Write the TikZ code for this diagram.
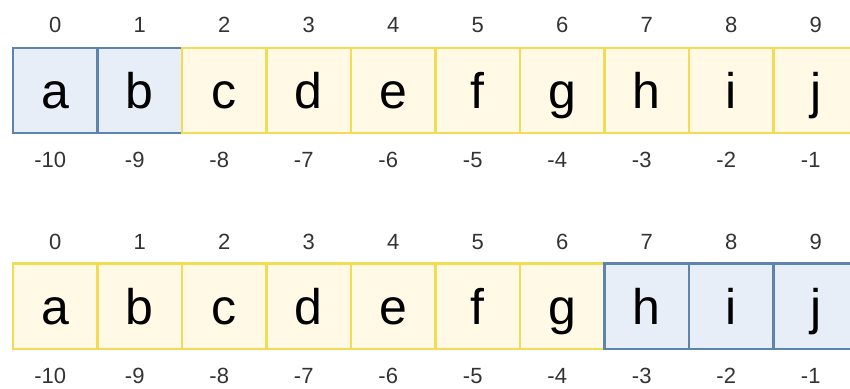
\documentclass[tikz,border=0pt]{standalone}
\usepackage{fontspec}
\setmainfont{Liberation Sans}
\usetikzlibrary{positioning}
\definecolor{cBlueFill}{HTML}{E8EEF7}
\definecolor{cBlueLine}{HTML}{5E84AC}
\definecolor{cYellowFill}{HTML}{FFF9E6}
\definecolor{cYellowLine}{HTML}{F3DC55}
\definecolor{cIdx}{HTML}{333333}
\tikzset{
	cell/.style={rectangle, minimum width=84.5pt, minimum height=85.5pt, inner sep=0pt, outer sep=0pt, line width=2.2pt, text=black, font=\fontsize{50}{60}\selectfont, text height=36pt, text depth=0pt},
	hot/.style ={cell, draw=cBlueLine, fill=cBlueFill},
	cold/.style={cell, draw=cYellowLine, fill=cYellowFill},
	idx/.style ={inner sep=0pt, text=cIdx, font=\fontsize{22}{26}\selectfont, text height=16pt, text depth=0pt},
}
\begin{document}
\begin{tikzpicture}[x=1pt, y=-1pt]
	\useasboundingbox (0,0) rectangle (850,388);
	% upper row: first two cells marked
	\foreach \ch [count=\i from 0] in {a,b,c,d,e,f,g,h,i,j} {
		\pgfmathtruncatemacro\neg{\i-10}
		\ifnum\i<2 \def\kind{hot}\else\def\kind{cold}\fi
		\node[\kind] (up\i) at ({55.25+84.5*\i},90.5) {\ch};
		\node[idx] (upidx\i) at ([yshift=23pt]up\i.north) {\i};
		\node[idx] (upneg\i) at ([xshift=-5pt, yshift=-26pt]up\i.south) {\neg};
	}
	% lower row: last three cells marked
	\foreach \ch [count=\i from 0] in {a,b,c,d,e,f,g,h,i,j} {
		\pgfmathtruncatemacro\neg{\i-10}
		\ifnum\i>6 \def\kind{hot}\else\def\kind{cold}\fi
		\node[\kind] (lo\i) at ({55.25+84.5*\i},306.2) {\ch};
		\node[idx] (loidx\i) at ([yshift=22pt]lo\i.north) {\i};
		\node[idx] (loneg\i) at ([xshift=-5pt, yshift=-27pt]lo\i.south) {\neg};
	}
\end{tikzpicture}
\end{document}
